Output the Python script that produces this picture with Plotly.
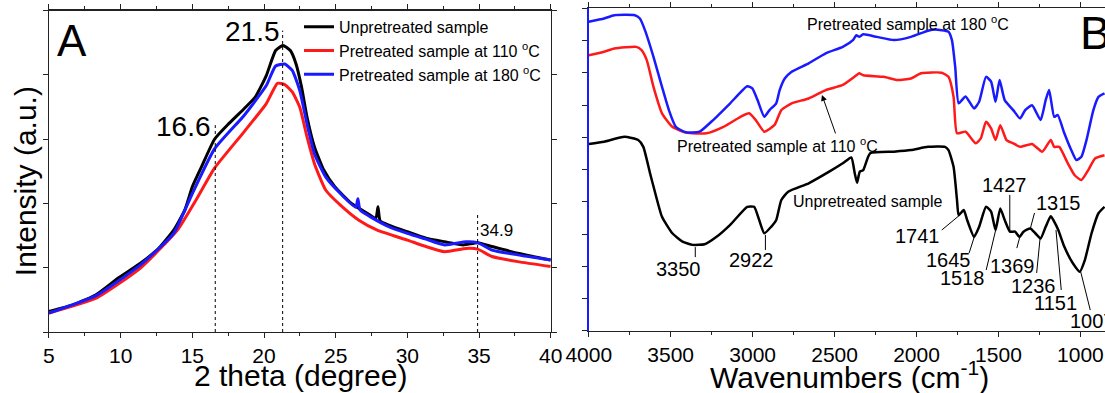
import plotly.graph_objects as go

# ---------------- XRD data (panel A) ----------------
xrd_x_black = [5, 6.73, 8.28, 9.83, 11.38, 12.67, 13.70, 14.48, 15.0, 15.64, 16.55, 17.58, 18.61, 19.39,
               20.16, 20.81, 21.32, 21.84, 22.23, 22.62, 23.0, 23.52, 24.17, 24.94, 26.1, 27.4, 27.8,
               27.95, 28.1, 28.7, 30.0, 31.3, 32.6, 33.9, 34.9, 35.9, 37.7, 40.0]
xrd_y_black = [6.4, 8.5, 11.6, 16.8, 21.4, 26.1, 31.7, 38.0, 45.2, 51.4, 60.0, 65.0, 69.5, 73.1,
               79.8, 87.6, 89.2, 87.6, 83.5, 76.2, 66.9, 57.6, 50.4, 45.2, 40.0, 36.4, 35.3,
               39.0, 34.6, 33.3, 31.2, 29.2, 28.1, 27.1, 27.8, 26.6, 24.5, 22.4]

xrd_x_red = [5, 8.28, 11.38, 13.96, 15.26, 16.55, 18.61, 20.16, 20.94, 21.45, 21.97, 22.49, 23.0,
             23.52, 24.3, 25.33, 26.62, 27.9, 30.0, 31.3, 32.6, 34.1, 34.9, 35.9, 37.7, 40.0]
xrd_y_red = [5.9, 10.5, 19.9, 31.7, 41.1, 51.0, 62.3, 71.1, 77.4, 77.0, 74.7, 70.0, 60.7,
             52.4, 44.2, 39.5, 34.8, 31.7, 28.6, 26.6, 25.0, 26.0, 25.8, 23.5, 21.9, 20.4]

xrd_x_blue = [5, 8.28, 11.38, 13.70, 15.0, 16.55, 18.61, 20.16, 20.81, 21.45, 21.97, 22.49, 23.0,
              23.52, 24.3, 25.33, 26.4, 26.55, 26.7, 27.4, 28.7, 30.0, 31.3, 32.6, 34.1, 34.9,
              35.9, 37.7, 40.0]
xrd_y_blue = [5.9, 11.3, 20.9, 30.7, 43.1, 57.0, 67.4, 76.7, 82.8, 83.4, 81.4, 75.2, 64.8,
              55.5, 48.3, 43.1, 38.8, 41.5, 38.0, 35.9, 32.8, 30.7, 28.9, 27.1, 28.1, 27.8,
              25.5, 24.0, 22.4]

xrd_names = ["Unpretreated sample", "Pretreated sample at 110 <sup>o</sup>C",
             "Pretreated sample at 180 <sup>o</sup>C"]

xrd_peaks = [16.6, 21.3, 34.9]
xrd_peak_tops = [64.4, 93.8, 36.7]
xrd_peak_labels = ["16.6", "21.5", "34.9"]

# ---------------- FTIR data (panel B) ----------------
ir_w_black = [4000, 3906, 3782, 3698, 3667, 3626, 3594, 3553, 3490, 3428, 3365, 3293, 3220, 3137,
              3033, 2991, 2960, 2929, 2887, 2856, 2825, 2783, 2658, 2533, 2450, 2398, 2377, 2363,
              2346, 2325, 2283, 2138, 2034, 1930, 1826, 1805, 1774, 1753, 1743, 1712, 1691, 1649,
              1618, 1576, 1545, 1518, 1489, 1462, 1430, 1399, 1372, 1347, 1306, 1275, 1243, 1212,
              1181, 1160, 1135, 1098, 1046, 1004, 973, 932, 890, 853]
ir_v_black = [58.0, 58.7, 60.2, 59.2, 57.1, 48.9, 42.7, 35.4, 30.3, 27.7, 26.7, 26.9, 29.2, 32.9,
              38.5, 38.5, 34.4, 30.3, 32.3, 34.4, 40.6, 43.2, 45.8, 49.4, 52.0, 53.8, 48.9, 46.0,
              49.4, 49.9, 55.1, 55.6, 56.1, 57.1, 57.1, 56.1, 50.9, 40.6, 35.9, 37.5, 34.4, 29.2,
              32.3, 38.5, 37.0, 31.3, 38.0, 34.4, 30.8, 30.8, 29.2, 30.8, 31.8, 30.3, 28.7, 32.3,
              35.6, 33.9, 31.3, 26.1, 21.0, 18.4, 22.0, 30.3, 36.5, 38.5]

ir_w_red = [4000, 3906, 3844, 3709, 3678, 3646, 3605, 3553, 3490, 3407, 3282, 3178, 3074, 3022,
            2981, 2929, 2866, 2825, 2762, 2658, 2554, 2450, 2367, 2350, 2325, 2200, 2117, 2034,
            1972, 1847, 1805, 1774, 1753, 1701, 1639, 1608, 1576, 1545, 1518, 1489, 1451, 1410,
            1368, 1295, 1233, 1181, 1160, 1129, 1077, 1035, 994, 952, 911, 853]
ir_v_red = [85.5, 86.6, 87.6, 88.1, 87.1, 84.0, 75.7, 67.5, 63.3, 61.5, 61.3, 63.3, 66.4, 67.5,
            65.4, 61.8, 63.9, 68.5, 70.6, 72.1, 74.7, 76.3, 79.3, 79.9, 79.3, 78.8, 77.8, 78.3,
            79.9, 80.1, 78.8, 72.6, 61.3, 61.8, 58.2, 59.7, 64.9, 62.8, 59.2, 63.8, 59.2, 58.2,
            57.1, 58.0, 55.6, 59.2, 57.1, 57.1, 52.0, 48.3, 46.8, 49.9, 53.5, 54.5]

ir_w_blue = [4000, 3906, 3844, 3719, 3688, 3657, 3605, 3553, 3511, 3469, 3407, 3324, 3241, 3137,
             3033, 3002, 2970, 2929, 2897, 2856, 2835, 2804, 2762, 2658, 2554, 2450, 2388, 2367,
             2350, 2325, 2242, 2138, 2034, 1930, 1889, 1805, 1784, 1764, 1743, 1701, 1649, 1618,
             1576, 1545, 1518, 1493, 1462, 1410, 1368, 1337, 1295, 1243, 1212, 1191, 1160, 1139,
             1098, 1056, 1025, 994, 963, 921, 890, 853]
ir_v_blue = [95.9, 96.9, 97.9, 97.9, 96.9, 93.3, 85.0, 75.7, 68.5, 63.3, 61.6, 61.8, 65.4, 70.6,
             75.9, 75.2, 71.6, 66.4, 68.5, 70.6, 74.7, 78.3, 80.4, 83.0, 86.1, 88.1, 90.2, 91.7,
             91.2, 92.0, 91.2, 90.2, 91.2, 93.1, 93.5, 92.8, 90.2, 81.9, 70.6, 72.7, 69.0, 71.1,
             78.8, 77.3, 71.1, 77.8, 71.6, 68.5, 65.9, 68.5, 70.0, 65.4, 71.6, 74.7, 66.4, 67.0,
             61.3, 56.1, 53.0, 54.0, 59.2, 68.5, 72.6, 73.7]

# peak labels: text, text position (w, v), leader line start and end (w, v)
ir_labels = ["3350", "2922", "1741", "1645", "1518", "1427", "1369", "1315", "1236", "1151", "1007"]
ir_text_w = [3452, 3007, 1992, 1803, 1721, 1465, 1415, 1134, 1288, 1149, 1077]
ir_text_v = [19.2, 22.0, 29.5, 22.0, 16.4, 45.3, 20.2, 39.7, 14.0, 8.7, 3.1]
ir_line_w0 = [3350, 2922, 1846, 1679, 1575, 1431, 1388, 1280, 1267, 1117, 940]
ir_line_v0 = [22.9, 25.1, 31.3, 24.2, 18.9, 42.2, 25.7, 36.6, 18.0, 12.7, 6.5]
ir_line_w1 = [3350, 2922, 1742, 1648, 1517, 1431, 1370, 1305, 1246, 1149, 998]
ir_line_v1 = [26.0, 29.8, 35.7, 29.1, 31.3, 30.7, 29.1, 31.9, 28.8, 31.3, 18.3]

FONT = "Liberation Sans, Arial, sans-serif"
BLACK, RED, BLUE = "#000000", "#ff1a1a", "#1a1aff"

fig = go.Figure()

for xs, ys, col, name in [(xrd_x_black, xrd_y_black, BLACK, xrd_names[0]),
                          (xrd_x_red, xrd_y_red, RED, xrd_names[1]),
                          (xrd_x_blue, xrd_y_blue, BLUE, xrd_names[2])]:
    fig.add_trace(go.Scatter(x=xs, y=ys, mode="lines", name=name,
                             line=dict(color=col, width=3, shape="spline", smoothing=0.5),
                             xaxis="x", yaxis="y"))

for ws, vs, col in [(ir_w_black, ir_v_black, BLACK), (ir_w_red, ir_v_red, RED),
                    (ir_w_blue, ir_v_blue, BLUE)]:
    fig.add_trace(go.Scatter(x=ws, y=vs, mode="lines", showlegend=False,
                             line=dict(color=col, width=2.5, shape="spline", smoothing=0.5),
                             xaxis="x2", yaxis="y2"))

shapes = []
for px, top in zip(xrd_peaks, xrd_peak_tops):
    shapes.append(dict(type="line", xref="x", yref="y", x0=px, x1=px, y0=0, y1=top,
                       line=dict(color="black", width=1, dash="dot")))
for w0, v0, w1, v1 in zip(ir_line_w0, ir_line_v0, ir_line_w1, ir_line_v1):
    shapes.append(dict(type="line", xref="x2", yref="y2", x0=w0, x1=w1, y0=v0, y1=v1,
                       line=dict(color="black", width=1)))


def txt(x, y, text, size, xref, yref, xanchor="center", **kw):
    return dict(x=x, y=y, xref=xref, yref=yref, text=text, showarrow=False,
                xanchor=xanchor, yanchor="middle",
                font=dict(size=size, color="black", family=FONT), **kw)


ann = []
# XRD peak labels
ann.append(txt(19.2, 93.5, xrd_peak_labels[1], 28, "x", "y"))
ann.append(txt(16.44, 64.1, xrd_peak_labels[0], 28, "x", "y", xanchor="right"))
ann.append(txt(36.23, 31.6, xrd_peak_labels[2], 17, "x", "y"))
# FTIR peak labels
for t, w, v in zip(ir_labels, ir_text_w, ir_text_v):
    ann.append(txt(w, v, t, 20, "x2", "y2", xanchor="left" if t == "1007" else "center"))
# FTIR curve labels
ann.append(txt(2053, 95.5, "Pretreated sample at 180 <sup>o</sup>C", 16, "x2", "y2"))
ann.append(txt(2846, 57.7, "Pretreated sample at 110 <sup>o</sup>C", 16, "x2", "y2"))
ann.append(txt(2299, 40.0, "Unpretreated sample", 16, "x2", "y2"))
ann.append(dict(x=2577, y=73.2, xref="x2", yref="y2", ax=2491, ay=60.8, axref="x2", ayref="y2",
                text="", showarrow=True, arrowhead=2, arrowsize=1.2, arrowwidth=1,
                arrowcolor="black"))
# panel letters
ann.append(txt(0.0652, 0.8957, "A", 44, "paper", "paper"))
ann.append(txt(0.976, 0.916, "B", 46, "paper", "paper", xanchor="left"))
# axis titles
ann.append(txt(0.2715, 0.0433, "2 theta (degree)", 30, "paper", "paper"))
ann.append(txt(0.769, 0.0458, "Wavenumbers (cm<sup>-1</sup>)", 30, "paper", "paper"))
ann.append(txt(0.0226, 0.539, "Intensity (a.u.)", 30, "paper", "paper", textangle=-90))

axis_common = dict(showgrid=False, zeroline=False, linecolor="#222", linewidth=1.2,
                   ticks="outside", tickcolor="#222", ticklen=5, tickwidth=1, automargin=False,
                   tickfont=dict(size=21, color="black", family=FONT))

fig.update_layout(
    template="none",
    width=1105, height=393, autosize=False,
    margin=dict(l=0, r=0, t=0, b=0, pad=0, autoexpand=False),
    paper_bgcolor="white", plot_bgcolor="white",
    font=dict(family=FONT, color="black"),
    xaxis=dict(domain=[0.0443, 0.4984], range=[5, 40], dtick=5, tick0=5, anchor="y",
               mirror="ticks", showline=True,
               minor=dict(dtick=2.5, ticks="outside", ticklen=3, tickcolor="#222"),
               **axis_common),
    yaxis=dict(domain=[0.1552, 0.9728], range=[0, 100], dtick=20, showticklabels=False,
               anchor="x", mirror="ticks", showline=True, **axis_common),
    xaxis2=dict(domain=[0.5328, 1.0], range=[4000, 850], dtick=500, tick0=4000, anchor="y2",
                mirror="ticks", showline=True,
                minor=dict(dtick=250, ticks="outside", ticklen=3, tickcolor="#222"),
                **axis_common),
    yaxis2=dict(domain=[0.1578, 0.9784], range=[0, 100], dtick=10, showticklabels=False,
                anchor="x2", showline=True, mirror=False,
                **{**axis_common, "linecolor": BLUE, "linewidth": 2}),
    legend=dict(x=0.2706, y=0.975, xanchor="left", yanchor="top", bgcolor="rgba(0,0,0,0)",
                font=dict(size=16, color="black", family=FONT), tracegroupgap=0,
                itemwidth=30, borderwidth=0),
    shapes=shapes,
    annotations=ann,
)

fig.write_html("out.html", config={"displayModeBar": False, "staticPlot": True},
               post_script="document.body.style.margin='0';document.body.style.overflow='hidden';")
